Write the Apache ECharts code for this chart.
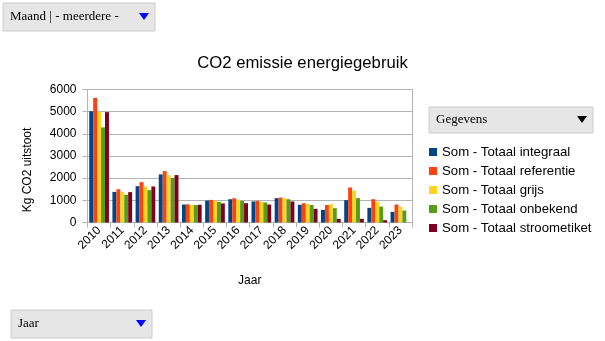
<!DOCTYPE html>
<html><head><meta charset="utf-8">
<script src="https://cdn.jsdelivr.net/npm/echarts@6/dist/echarts.min.js"></script>
<style>html,body{margin:0;padding:0;background:#fff}#c{width:605px;height:341px}</style>
</head><body><div id="c"></div>
<script>
const years = ['2010','2011','2012','2013','2014','2015','2016','2017','2018','2019','2020','2021','2022','2023'];
const integraal    = [5020,1380,1640,2170, 810, 990,1050, 950,1100, 800, 570,1010, 660, 480];
const referentie   = [5620,1500,1820,2320, 820,1020,1095, 975,1125, 870, 790,1580,1050, 810];
const grijs        = [5000,1380,1625,2140, 790, 980,1035, 935,1100, 840, 830,1430, 935, 705];
const onbekend     = [4290,1250,1460,2015, 790, 930, 975, 905,1050, 790, 645,1100, 720, 540];
const stroometiket = [4980,1370,1625,2140, 800, 860, 870, 810, 950, 615, 165, 165, 105,   0];
const seriesNames = ['Som - Totaal integraal','Som - Totaal referentie','Som - Totaal grijs','Som - Totaal onbekend','Som - Totaal stroometiket'];
const seriesData = [integraal, referentie, grijs, onbekend, stroometiket];
const colors = ['#004586','#ff420e','#ffd320','#579d1c','#7e0021'];

const chart = echarts.init(document.getElementById('c'));
function dropdown(x,y,w,h,label,triColor){
  return {type:'group', left:x, top:y, children:[
    {type:'rect', shape:{x:0,y:0,width:w,height:h}, style:{fill:'#e6e6e6', stroke:'#cccccc', lineWidth:1}},
    {type:'text', style:{x:7,y:h/2,text:label,fill:'#000',font:'13px "Liberation Serif", serif',verticalAlign:'middle'}},
    {type:'polygon', shape:{points:[[w-16,h/2-4],[w-6,h/2-4],[w-11,h/2+3]]}, style:{fill:triColor}}
  ]};
}
chart.setOption({
  animation:false,
  color: colors,
  title:{text:'CO2 emissie energiegebruik', left:'center', top:50,
    textStyle:{fontFamily:'Liberation Sans', fontSize:16.7, fontWeight:'normal', color:'#000'}},
  grid:{left:87.5, right:193, top:89.5, bottom:118.5, show:false},
  legend:{orient:'vertical', left:424, top:140.5, itemWidth:8, itemHeight:8, itemGap:6,
    icon:'rect', textStyle:{fontFamily:'Liberation Sans', fontSize:13.2, color:'#000'},
    data: seriesNames},
  xAxis:{type:'category', data:years, name:'Jaar', nameLocation:'middle', nameGap:52,
    nameTextStyle:{fontFamily:'Liberation Sans', fontSize:12, color:'#000'},
    axisLine:{lineStyle:{color:'#b3b3b3'}},
    axisTick:{show:true, length:5, lineStyle:{color:'#b3b3b3'}},
    axisLabel:{rotate:45, fontFamily:'Liberation Sans', fontSize:12, color:'#000', margin:6}},
  yAxis:{type:'value', min:0, max:6000, interval:1000,
    axisLine:{show:true, lineStyle:{color:'#b3b3b3'}},
    axisTick:{show:true, length:5, lineStyle:{color:'#b3b3b3'}},
    splitLine:{lineStyle:{color:'#b3b3b3'}},
    axisLabel:{fontFamily:'Liberation Sans', fontSize:12, color:'#000', margin:11, formatter:v=>String(v)}},
  series: seriesNames.map((n,i)=>({name:n, type:'bar', data:seriesData[i], barGap:'0%', barCategoryGap:'15%'})),
  graphic:[
    {type:'line', shape:{x1:412.5,y1:89,x2:412.5,y2:222.5}, style:{stroke:'#b3b3b3', lineWidth:1}},
    {type:'text', x:28, y:170, rotation:Math.PI/2, style:{text:'Kg CO2 uitstoot', fill:'#000', font:'12px "Liberation Sans"', align:'center', verticalAlign:'middle'}},
    dropdown(2.5,2.5,152,28,'Maand | - meerdere -','#0000ff'),
    dropdown(10.5,309.5,141,28,'Jaar','#0000ff'),
    dropdown(428.5,106.5,164,26,'Gegevens','#000000')
  ]
});
</script></body></html>
